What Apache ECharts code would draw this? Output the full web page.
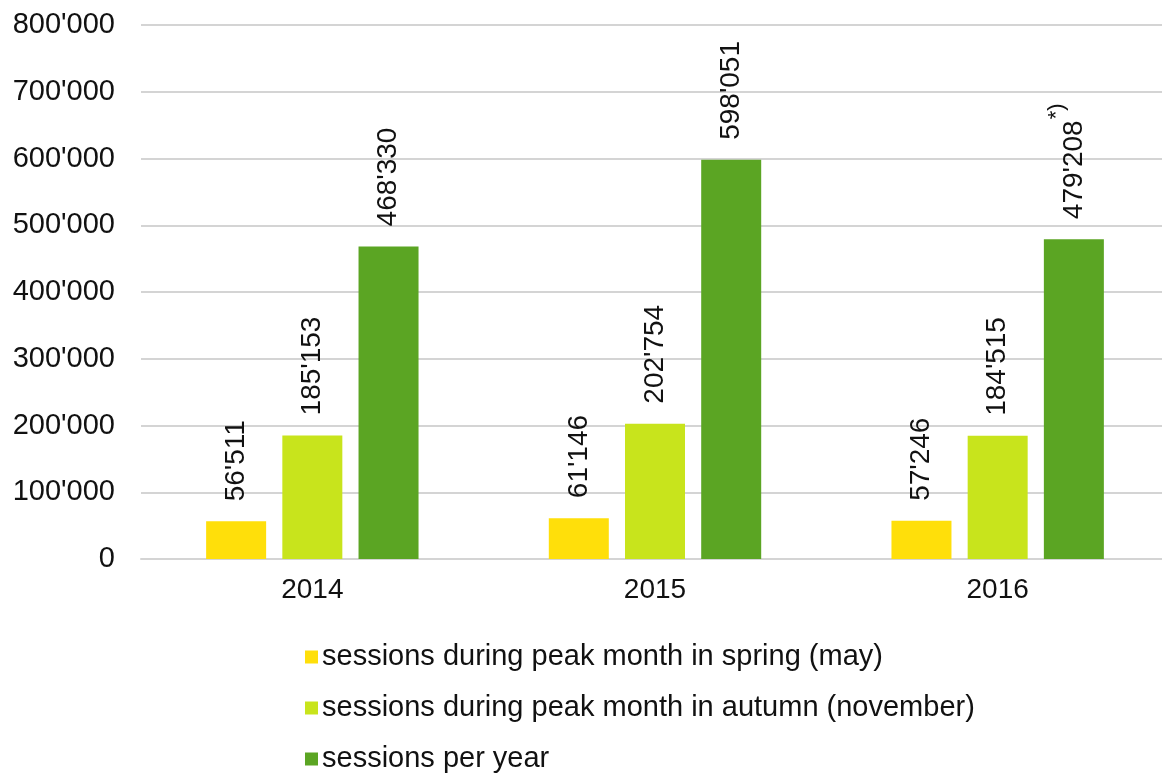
<!DOCTYPE html>
<html>
<head>
<meta charset="utf-8">
<script src="https://cdn.jsdelivr.net/npm/echarts@6/dist/echarts.min.js"></script>
<style>
html,body{margin:0;padding:0;background:#fff;}
#c{width:1162px;height:778px;}
</style>
</head>
<body>
<div id="c"></div>
<script>
const categories = ['2014', '2015', '2016'];
const seriesNames = [
  'sessions during peak month in spring (may)',
  'sessions during peak month in autumn (november)',
  'sessions per year'
];
const springValues = [56511, 61146, 57246];
const autumnValues = [185153, 202754, 184515];
const yearValues = [468330, 598051, 479208];
const yearNotes = ['', '', '*)'];
const colors = ['#FFDF0A', '#C8E41C', '#5BA523'];
const yTicks = [0, 100000, 200000, 300000, 400000, 500000, 600000, 700000, 800000];

function fmt(v) {
  return String(v).replace(/\B(?=(\d{3})+(?!\d))/g, "'");
}

const FONT = 'Liberation Sans, Arial, sans-serif';

function makeSeries(name, data, color, notes) {
  return {
    name: name,
    type: 'bar',
    data: data,
    barWidth: 60,
    barGap: '27%',
    itemStyle: { color: color },
    label: {
      show: true,
      position: 'top',
      rotate: 90,
      align: 'left',
      verticalAlign: 'middle',
      distance: 20,
      color: '#111',
      fontSize: 28,
      fontFamily: FONT,
      formatter: function (p) {
        const note = notes ? notes[p.dataIndex] : '';
        return note ? '{b|' + fmt(p.value) + '}{s|' + note + '}' : '{a|' + fmt(p.value) + '}';
      },
      rich: {
        a: { fontSize: 28, fontFamily: FONT, color: '#111', lineHeight: 32 },
        b: { fontSize: 28, fontFamily: FONT, color: '#111', lineHeight: 56 },
        s: { fontSize: 22, fontFamily: FONT, color: '#111', verticalAlign: 'top', lineHeight: 20, padding: [0, 0, 0, 1] }
      }
    }
  };
}

const chart = echarts.init(document.getElementById('c'), null, { renderer: 'canvas' });
chart.setOption({
  backgroundColor: '#fff',
  animation: false,
  grid: { left: 141, top: 25, width: 1028, height: 534, containLabel: false, outerBoundsMode: 'none' },
  legend: {
    orient: 'vertical',
    left: 300,
    top: 636,
    height: 200,
    itemWidth: 13,
    itemHeight: 13,
    itemGap: 19,
    icon: 'rect',
    data: seriesNames,
    textStyle: { fontSize: 29, fontFamily: FONT, color: '#111', lineHeight: 32, padding: [0, 0, 0, -1] }
  },
  xAxis: {
    type: 'category',
    data: categories,
    axisLine: { show: true, lineStyle: { color: '#d4d4d4', width: 2 } },
    axisTick: { show: false },
    axisLabel: { fontSize: 28, fontFamily: FONT, color: '#111', margin: 17 }
  },
  yAxis: {
    type: 'value',
    min: yTicks[0],
    max: yTicks[yTicks.length - 1],
    interval: yTicks[1] - yTicks[0],
    axisLine: { show: false },
    axisTick: { show: false },
    splitLine: { lineStyle: { color: '#d4d4d4', width: 2 } },
    axisLabel: { fontSize: 29, fontFamily: FONT, color: '#111', margin: 26, formatter: fmt }
  },
  series: [
    makeSeries(seriesNames[0], springValues, colors[0]),
    makeSeries(seriesNames[1], autumnValues, colors[1]),
    makeSeries(seriesNames[2], yearValues, colors[2], yearNotes)
  ]
});
</script>
</body>
</html>
